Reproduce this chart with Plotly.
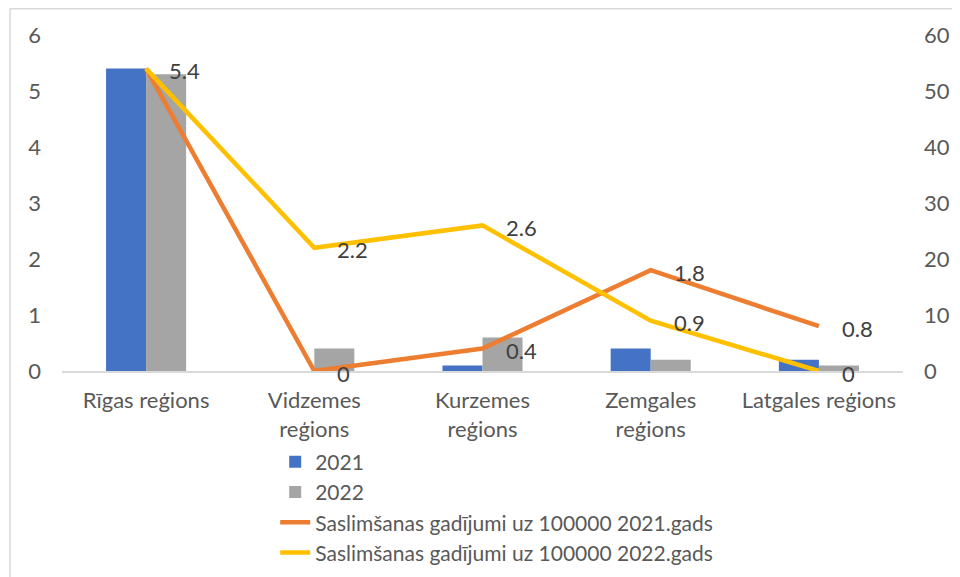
import plotly.graph_objects as go

regions = ["Rīgas reģions", "Vidzemes<br>reģions", "Kurzemes<br>reģions", "Zemgales<br>reģions", "Latgales reģions"]
bars_2021 = [5.4, 0, 0.1, 0.4, 0.2]
bars_2022 = [5.3, 0.4, 0.6, 0.2, 0.1]
rate_2021 = [54, 0, 4, 18, 8]
rate_2022 = [54, 22, 26, 9, 0]
labels_2021 = ["5.4", "0", "0.4", "1.8", "0.8"]
labels_2022 = ["", "2.2", "2.6", "0.9", "0"]

font = "Lato, Open Sans, sans-serif"
grey_txt = "#595959"
fsize = 22

fig = go.Figure()
fig.add_trace(go.Bar(x=regions, y=bars_2021, name="2021", marker_color="#4472C4", marker_line_width=0))
fig.add_trace(go.Bar(x=regions, y=bars_2022, name="2022", marker_color="#A5A5A5", marker_line_width=0))
fig.add_trace(go.Scatter(x=regions, y=rate_2021, yaxis="y2", mode="lines",
                         name="Saslimšanas gadījumi uz 100000 2021.gads",
                         line=dict(color="#ED7D31", width=4.5)))
fig.add_trace(go.Scatter(x=regions, y=rate_2022, yaxis="y2", mode="lines",
                         name="Saslimšanas gadījumi uz 100000 2022.gads",
                         line=dict(color="#FFC000", width=4.5)))

# data labels to the right of the line points
for vals, labs in [(rate_2021, labels_2021), (rate_2022, labels_2022)]:
    for r, v, t in zip(regions, vals, labs):
        if t:
            fig.add_annotation(x=r, y=v, yref="y2", text=t, showarrow=False,
                               xanchor="left", yanchor="middle", xshift=21, yshift=-2,
                               font=dict(family=font, size=fsize, color="#404040"))

# chart border
fig.add_shape(type="rect", xref="paper", yref="paper", x0=-0.0618, x1=1.1, y0=-0.75, y1=1.078,
              line=dict(color="#D9D9D9", width=1.5), layer="below")

fig.update_layout(
    width=952, height=569,
    margin=dict(l=54, r=57, t=27, b=206, autoexpand=False),
    paper_bgcolor="white", plot_bgcolor="white",
    barmode="group", bargap=0.524, bargroupgap=0,
    font=dict(family=font, size=fsize, color=grey_txt),
    showlegend=True,
    legend=dict(x=0.2535, y=-0.21, xanchor="left", yanchor="top",
                font=dict(size=21, color=grey_txt), tracegroupgap=0,
                bgcolor="rgba(0,0,0,0)"),
    xaxis=dict(showgrid=False, showline=True, linecolor="#D9D9D9", linewidth=1.5,
               ticks="", ticklabelstandoff=9, automargin=False,
               tickfont=dict(size=fsize, color=grey_txt)),
    yaxis=dict(range=[0, 6], dtick=1, showgrid=False, zeroline=False, showline=False,
               ticklabelstandoff=20, automargin=False,
               tickfont=dict(size=fsize, color=grey_txt)),
    yaxis2=dict(range=[0, 60], dtick=10, overlaying="y", side="right", showgrid=False,
                zeroline=False, showline=False, ticklabelstandoff=20, automargin=False,
                tickfont=dict(size=fsize, color=grey_txt)),
)

fig.write_html("out.html")
